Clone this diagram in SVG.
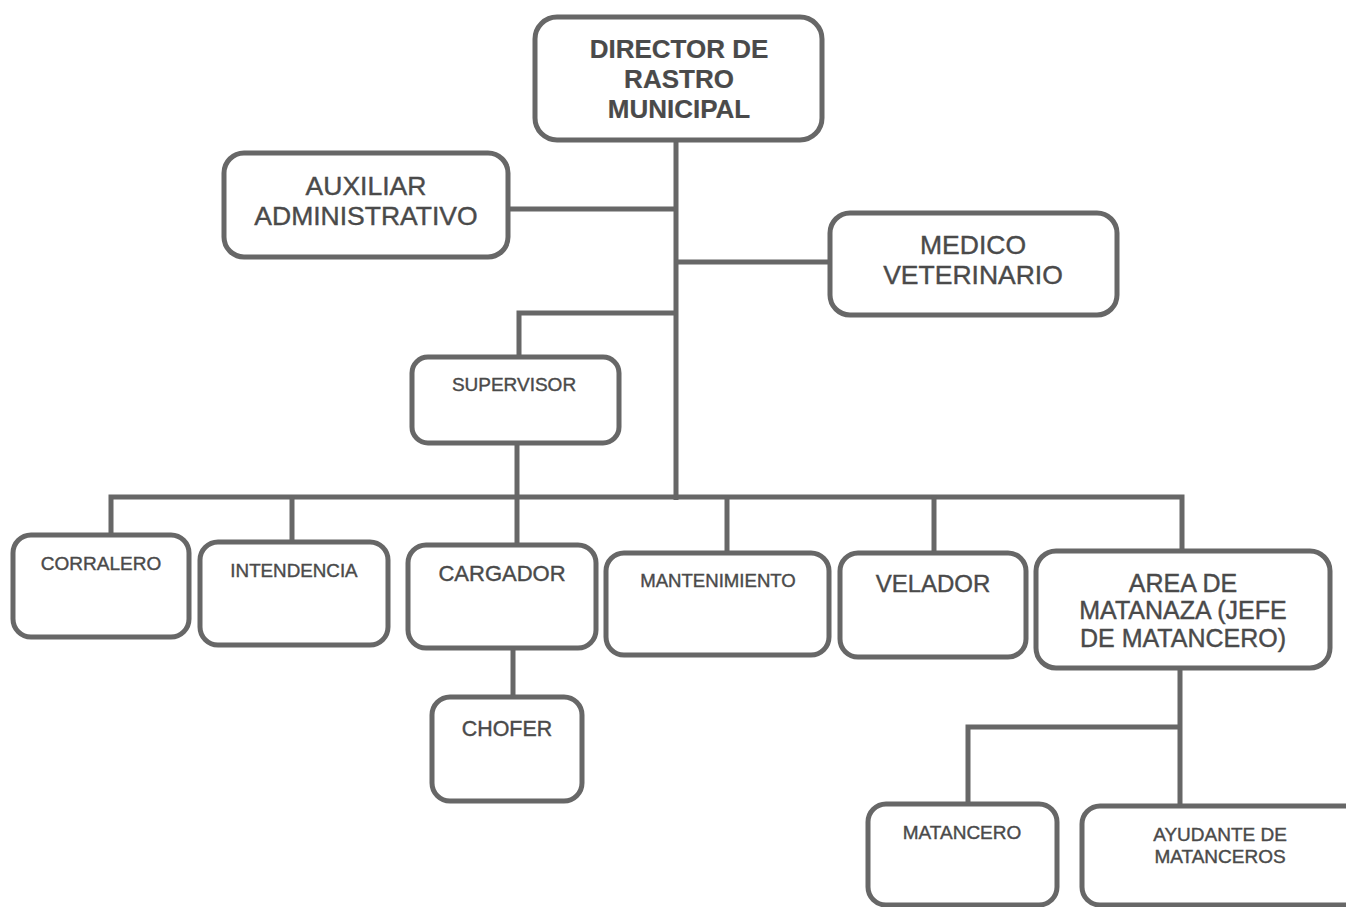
<svg xmlns="http://www.w3.org/2000/svg" width="1346" height="907" viewBox="0 0 1346 907">
<style>
.box{fill:#fff;stroke:#676767;stroke-width:5}
.ln{fill:none;stroke:#676767;stroke-width:5;stroke-linejoin:miter}
text{font-family:"Liberation Sans",Arial,sans-serif;fill:#4a4a4a;stroke:#4a4a4a;stroke-width:0.4;text-anchor:middle}
.b{font-weight:bold;stroke-width:0.2}
</style>
<rect width="1346" height="907" fill="#fff"/>
<g id="connectors">
<path class="ln" d="M676 140V500"/>
<path class="ln" d="M508 209H676"/>
<path class="ln" d="M676 262H830"/>
<path class="ln" d="M676 313H519V357"/>
<path class="ln" d="M517 443V546"/>
<path class="ln" d="M111 535V497H1182V551"/>
<path class="ln" d="M292 497V543"/>
<path class="ln" d="M727 497V553"/>
<path class="ln" d="M934 497V553"/>
<path class="ln" d="M513 648V697"/>
<path class="ln" d="M1180 668V805"/>
<path class="ln" d="M1180 727H968V804"/>
</g>
<g id="director"><rect class="box" x="535" y="17" width="287" height="123" rx="22"/>
<text class="b" x="679" y="58" font-size="26">DIRECTOR DE</text>
<text class="b" x="679" y="88" font-size="26">RASTRO</text>
<text class="b" x="679" y="118" font-size="26">MUNICIPAL</text></g>
<g id="auxiliar"><rect class="box" x="224" y="153" width="284" height="104" rx="20"/>
<text x="366" y="195" font-size="26.5">AUXILIAR</text>
<text x="366" y="225" font-size="26.5">ADMINISTRATIVO</text></g>
<g id="medico"><rect class="box" x="830" y="213" width="287" height="102" rx="20"/>
<text x="973" y="254" font-size="26.5">MEDICO</text>
<text x="973" y="284" font-size="26.5">VETERINARIO</text></g>
<g id="supervisor"><rect class="box" x="412" y="357" width="207" height="86" rx="16"/>
<text x="514" y="391" font-size="19">SUPERVISOR</text></g>
<g id="corralero"><rect class="box" x="13" y="535" width="176" height="102" rx="18"/>
<text x="101" y="570" font-size="19">CORRALERO</text></g>
<g id="intendencia"><rect class="box" x="200" y="542" width="188" height="103" rx="18"/>
<text x="294" y="577" font-size="18.8">INTENDENCIA</text></g>
<g id="cargador"><rect class="box" x="408" y="545" width="188" height="103" rx="18"/>
<text x="502" y="581" font-size="22">CARGADOR</text></g>
<g id="mantenimiento"><rect class="box" x="606" y="553" width="223" height="102" rx="18"/>
<text x="718" y="587" font-size="18.6">MANTENIMIENTO</text></g>
<g id="velador"><rect class="box" x="840" y="553" width="186" height="104" rx="18"/>
<text x="933" y="592" font-size="24">VELADOR</text></g>
<g id="area"><rect class="box" x="1036" y="551" width="294" height="117" rx="20"/>
<text x="1183" y="592" font-size="25">AREA DE</text>
<text x="1183" y="619" font-size="25">MATANAZA (JEFE</text>
<text x="1183" y="647" font-size="25">DE MATANCERO)</text></g>
<g id="chofer"><rect class="box" x="432" y="697" width="150" height="104" rx="18"/>
<text x="507" y="736" font-size="21.4">CHOFER</text></g>
<g id="matancero"><rect class="box" x="868" y="804" width="189" height="101" rx="18"/>
<text x="962" y="839" font-size="19">MATANCERO</text></g>
<g id="ayudante"><rect class="box" x="1082" y="806" width="290" height="99" rx="18"/>
<text x="1220" y="841" font-size="19">AYUDANTE DE</text>
<text x="1220" y="863" font-size="19">MATANCEROS</text></g>
</svg>
